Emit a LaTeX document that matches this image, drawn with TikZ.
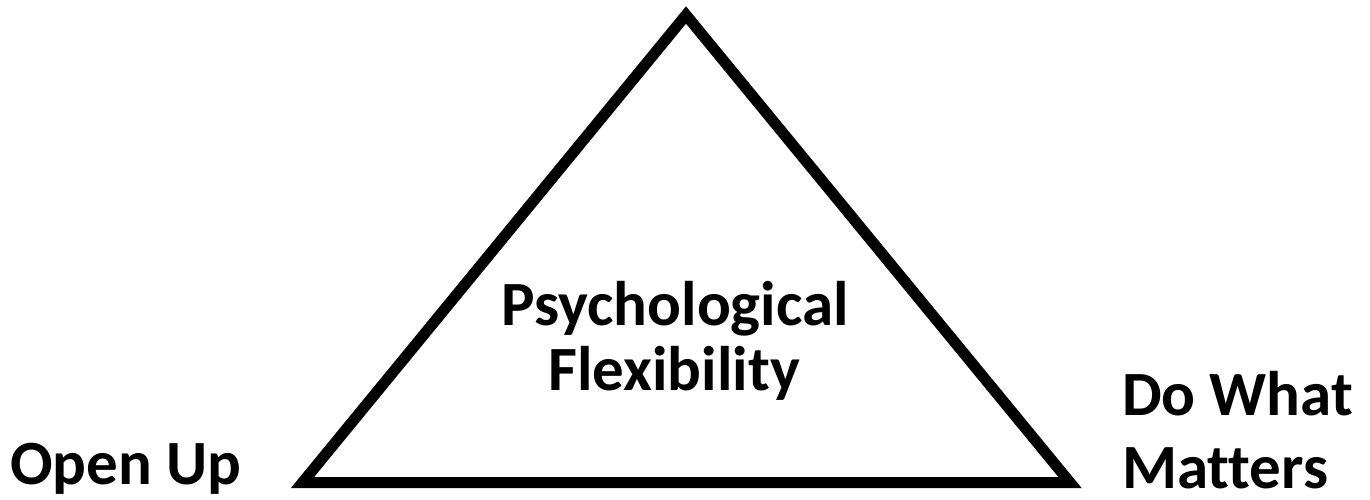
\documentclass[tikz,border=0pt]{standalone}
\usepackage{fontspec}
\setmainfont[Ligatures=NoCommon]{Carlito}
\begin{document}
\begin{tikzpicture}[x=1pt,y=-1pt,
  lbl/.style={font=\fontsize{63}{70}\selectfont\bfseries, inner sep=0pt, outer sep=0pt}]
\useasboundingbox (0,0) rectangle (1370,499);
\fill[white] (0,0) rectangle (1370,499);
\coordinate (apex) at (686,15);
\coordinate (bl) at (302.5,482.5);
\coordinate (br) at (1070,482.5);
\draw[line width=11pt, line join=miter] (apex) -- (bl) -- (br) -- cycle;
\node[lbl, anchor=base] (psy) at (675,325) {Psychological};
\node[lbl, anchor=base] (flex) at (674,390) {Flexibility};
\node[lbl, anchor=base west] (open) at (10,484) {Open Up};
\node[lbl, anchor=base west] (dowhat) at (1122,415) {Do What};
\node[lbl, anchor=base west] (matters) at (1122,488) {Matters};
\end{tikzpicture}
\end{document}
